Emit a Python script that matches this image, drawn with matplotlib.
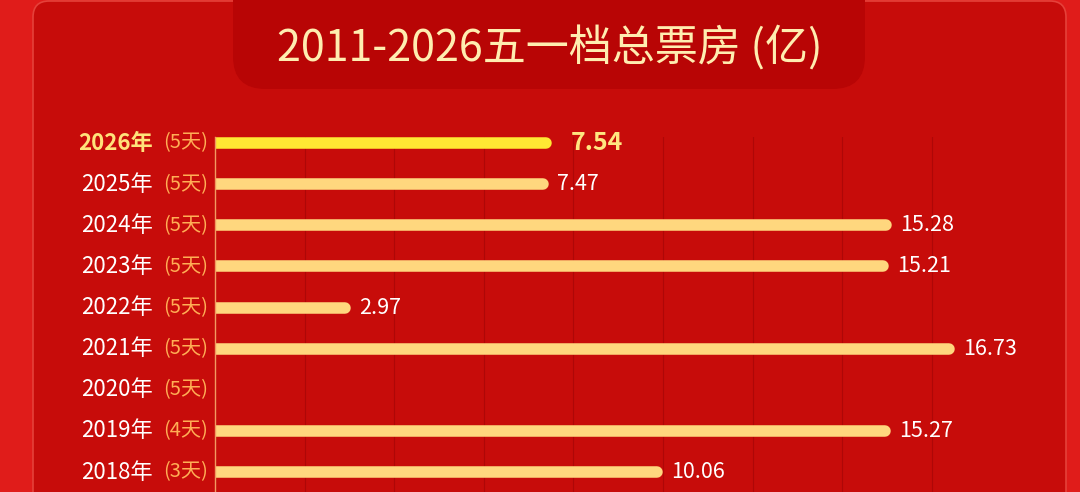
import matplotlib.pyplot as plt
from matplotlib.patches import FancyBboxPatch

plt.rcParams['font.family'] = ['Noto Sans CJK SC', 'DejaVu Sans']

# 数据 (可见部分)
years = ['2026年', '2025年', '2024年', '2023年', '2022年', '2021年', '2020年', '2019年', '2018年']
days = ['(5天)', '(5天)', '(5天)', '(5天)', '(5天)', '(5天)', '(5天)', '(4天)', '(3天)']
box_office = [7.54, 7.47, 15.28, 15.21, 2.97, 16.73, None, 15.27, 10.06]
value_labels = ['7.54', '7.47', '15.28', '15.21', '2.97', '16.73', '', '15.27', '10.06']
grid_ticks = [0, 2.05, 4.1, 6.15, 8.2, 10.25, 12.3, 14.35, 16.4]

W, H = 1080, 492
fig = plt.figure(figsize=(W / 100, H / 100), dpi=100)
fig.patch.set_facecolor('#E01C1A')

def px(x, y, w, h):
    # Pixel-Rechteck (oben links) -> figure-Koordinaten
    return x / W, 1 - (y + h) / H, w / W, h / H

# Karte
cx, cy, cw, ch = px(33, 1, 1033, 560)
card = FancyBboxPatch((cx, cy), cw, ch, boxstyle='round,pad=0,rounding_size=0.015',
                      transform=fig.transFigure, facecolor='#C70C0A',
                      edgecolor='#E5413A', linewidth=1.2, mutation_aspect=W / H, zorder=0)
fig.patches.append(card)

# Titelband
bx, by, bw, bh = px(233, -40, 632, 129)
banner = FancyBboxPatch((bx, by), bw, bh, boxstyle='round,pad=0,rounding_size=0.03',
                        transform=fig.transFigure, facecolor='#B80505',
                        edgecolor='none', mutation_aspect=W / H, zorder=0)
fig.patches.append(banner)
fig.text(550 / W, 1 - 49 / H, '2011-2026五一档总票房 (亿)', ha='center', va='center',
         fontsize=31, color='#FFEDB0')

# Achsen
ax_left, ax_top, ax_right = 215, 137, 1044
ax = fig.add_axes([ax_left / W, 0, (ax_right - ax_left) / W, 1 - ax_top / H])
ax.set_zorder(5)
ax.set_facecolor('none')
scale = 43.9
ax.set_xlim(0, (ax_right - ax_left) / scale)
row = 41.125
ax.set_ylim(8 + (492 - 472) / row, -(143 - 137) / row)

for i, (v, lab) in enumerate(zip(box_office, value_labels)):
    if v is None:
        continue
    top = i == 0
    c = '#FFE833' if top else '#FFD77E'
    ax.plot([-1, v], [i, i], color=c, linewidth=8.3, solid_capstyle='round', zorder=3)
    ax.text(v + (25 if top else 14) / scale, i, lab, va='center', ha='left',
            fontsize=18 if top else 15.5, fontweight='bold' if top else 'normal',
            color='#FFE680' if top else 'white')

for i, (y, d) in enumerate(zip(years, days)):
    top = i == 0
    ax.text(-62 / scale, i, y, ha='right', va='center', fontsize=16,
            fontweight='bold' if top else 'normal',
            color='#FFE27A' if top else 'white', clip_on=False)
    ax.text(-7 / scale, i, d, ha='right', va='center', fontsize=14.5,
            color='#FFAE55', clip_on=False)

ax.set_xticks([t * 43.7 / scale for t in grid_ticks])
ax.grid(axis='x', color='#AE0707', linewidth=0.8)
ax.tick_params(left=False, bottom=False, labelleft=False, labelbottom=False)
for s in ['top', 'right', 'bottom']:
    ax.spines[s].set_visible(False)
ax.spines['left'].set_color('#F29A60')
ax.spines['left'].set_linewidth(1.0)
ax.spines['left'].set_zorder(4)

fig.savefig('out.png', dpi=100)
